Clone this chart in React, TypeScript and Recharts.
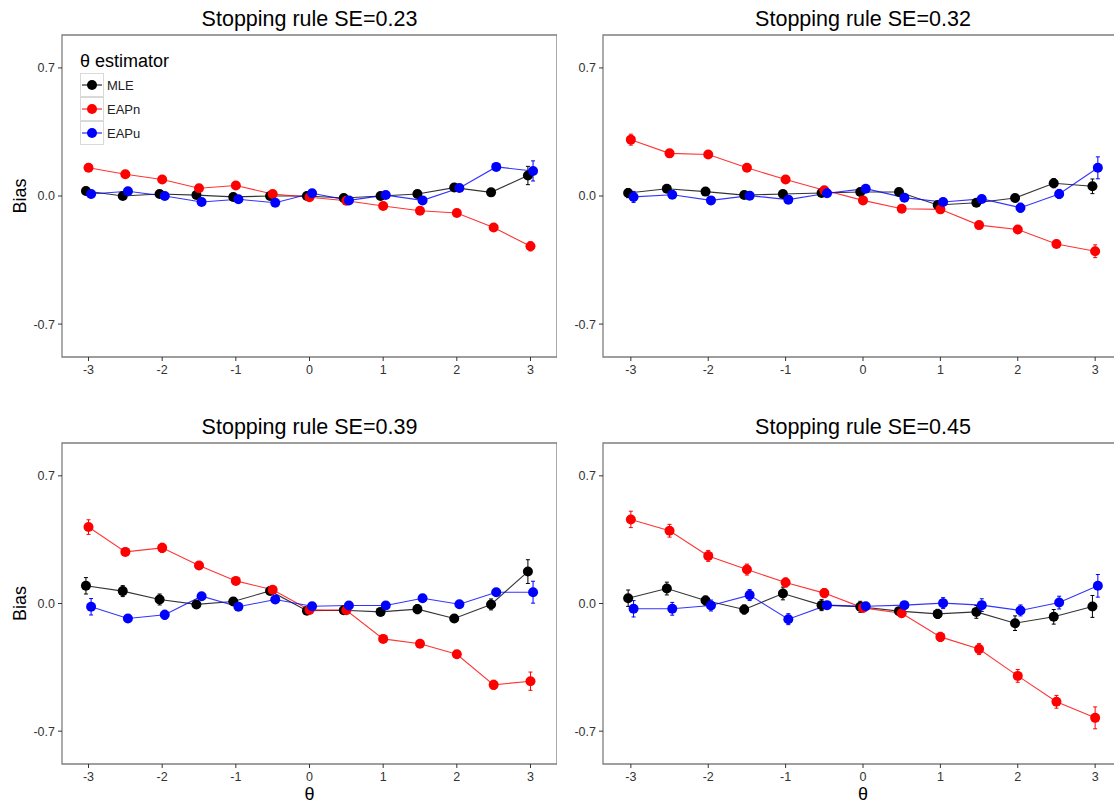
import React from 'react';
import { ComposedChart, Line, XAxis, YAxis, ErrorBar, ReferenceArea, Legend } from 'recharts';

const FONT = '"Liberation Sans", Arial, Helvetica, sans-serif';

// ---------- data ----------
const theta = [-3, -2.5, -2, -1.5, -1, -0.5, 0, 0.5, 1, 1.5, 2, 2.5, 3];
const xTicks = [-3, -2, -1, 0, 1, 2, 3];
const yTicks = [-0.7, 0, 0.7];

const estimators = ['MLE', 'EAPn', 'EAPu'];
const estimatorColors = ['#000000', '#FF0000', '#0000FF'];

const panelTitles = [
  'Stopping rule SE=0.23',
  'Stopping rule SE=0.32',
  'Stopping rule SE=0.39',
  'Stopping rule SE=0.45',
];

// SE = 0.23
const mle023 = [0.027, 0.0, 0.011, 0.005, -0.005, 0.0, 0.0, -0.011, 0.0, 0.011, 0.046, 0.02, 0.112];
const eapn023 = [0.154, 0.119, 0.09, 0.042, 0.057, 0.011, -0.007, -0.026, -0.055, -0.081, -0.093, -0.172, -0.275];
const eapu023 = [0.011, 0.026, 0.0, -0.033, -0.018, -0.037, 0.015, -0.024, 0.005, -0.024, 0.044, 0.159, 0.137];
const mleErr023 = [0.02, 0.015, 0.012, 0.012, 0.01, 0.01, 0.01, 0.01, 0.01, 0.012, 0.015, 0.02, 0.05];
const eapnErr023 = [0.02, 0.015, 0.012, 0.01, 0.01, 0.01, 0.01, 0.01, 0.01, 0.012, 0.012, 0.015, 0.025];
const eapuErr023 = [0.02, 0.015, 0.012, 0.01, 0.01, 0.01, 0.01, 0.01, 0.01, 0.012, 0.015, 0.02, 0.055];

// SE = 0.32
const mle032 = [0.016, 0.04, 0.024, 0.005, 0.011, 0.016, 0.022, 0.022, -0.049, -0.037, -0.011, 0.07, 0.053];
const eapn032 = [0.308, 0.233, 0.227, 0.154, 0.09, 0.031, -0.024, -0.07, -0.073, -0.159, -0.183, -0.262, -0.302];
const eapu032 = [-0.005, 0.007, -0.024, 0.002, -0.02, 0.015, 0.04, -0.009, -0.033, -0.016, -0.064, 0.011, 0.154];
const mleErr032 = [0.025, 0.02, 0.015, 0.012, 0.012, 0.01, 0.01, 0.012, 0.012, 0.015, 0.02, 0.025, 0.04];
const eapnErr032 = [0.03, 0.02, 0.015, 0.012, 0.012, 0.01, 0.01, 0.012, 0.012, 0.015, 0.015, 0.02, 0.035];
const eapuErr032 = [0.03, 0.02, 0.02, 0.015, 0.012, 0.01, 0.01, 0.012, 0.012, 0.015, 0.025, 0.025, 0.06];

// SE = 0.39
const mle039 = [0.097, 0.068, 0.022, -0.005, 0.011, 0.069, -0.04, -0.037, -0.046, -0.031, -0.082, -0.005, 0.175];
const eapn039 = [0.419, 0.283, 0.305, 0.208, 0.124, 0.075, -0.035, -0.037, -0.194, -0.221, -0.278, -0.446, -0.426];
const eapu039 = [-0.018, -0.082, -0.062, 0.04, -0.018, 0.022, -0.015, -0.011, -0.011, 0.029, -0.004, 0.062, 0.062];
const mleErr039 = [0.045, 0.03, 0.03, 0.02, 0.02, 0.02, 0.015, 0.015, 0.02, 0.025, 0.02, 0.03, 0.065];
const eapnErr039 = [0.04, 0.02, 0.025, 0.02, 0.015, 0.015, 0.015, 0.015, 0.02, 0.02, 0.02, 0.025, 0.05];
const eapuErr039 = [0.045, 0.02, 0.025, 0.02, 0.015, 0.015, 0.015, 0.015, 0.015, 0.015, 0.02, 0.02, 0.06];

// SE = 0.45
const mle045 = [0.029, 0.082, 0.016, -0.033, 0.055, -0.009, -0.018, -0.042, -0.057, -0.046, -0.108, -0.073, -0.016];
const eapn045 = [0.461, 0.399, 0.261, 0.186, 0.115, 0.057, -0.024, -0.053, -0.183, -0.25, -0.397, -0.539, -0.627];
const eapu045 = [-0.029, -0.029, -0.011, 0.046, -0.086, -0.009, -0.015, -0.009, 0.002, -0.009, -0.038, 0.005, 0.097];
const mleErr045 = [0.045, 0.035, 0.025, 0.025, 0.035, 0.03, 0.03, 0.02, 0.025, 0.035, 0.04, 0.04, 0.06];
const eapnErr045 = [0.045, 0.035, 0.03, 0.03, 0.025, 0.025, 0.02, 0.02, 0.025, 0.03, 0.035, 0.035, 0.06];
const eapuErr045 = [0.045, 0.035, 0.03, 0.03, 0.03, 0.02, 0.02, 0.02, 0.03, 0.035, 0.03, 0.035, 0.062];

// ---------- layout ----------
const DODGE = [-0.035, 0, 0.035];
const X_DOMAIN: [number, number] = [-3.36, 3.36];
const Y_DOMAIN: [number, number] = [-0.88, 0.88];

type Series = { values: number[]; errors: number[] };

const buildRows = (s: Series, offset: number) =>
  theta.map((t, i) => ({ x: t + offset, y: s.values[i], err: s.errors[i] }));

const LegendBox = () => (
  <div style={{ fontFamily: FONT }}>
    <div style={{ fontSize: 18, lineHeight: '20px', height: 20, whiteSpace: 'nowrap', color: '#000' }}>
      θ estimator
    </div>
    <div style={{ marginTop: 2 }}>
      {estimators.map((name, i) => (
        <div key={name} style={{ display: 'flex', alignItems: 'center', height: 24 }}>
          <svg width={24} height={24} style={{ display: 'block' }}>
            <rect x={0.5} y={0.5} width={23} height={23} fill="#ffffff" stroke="#d9d9d9" />
            <line x1={2} x2={22} y1={12} y2={12} stroke={estimatorColors[i]} strokeWidth={1} />
            <circle cx={12} cy={12} r={5} fill={estimatorColors[i]} />
          </svg>
          <span style={{ fontSize: 13, marginLeft: 3, color: '#222', whiteSpace: 'nowrap' }}>{name}</span>
        </div>
      ))}
    </div>
  </div>
);

type PanelProps = {
  title: string;
  series: Series[];
  left: number;
  top: number;
  width: number;
  height: number;
  yAxisWidth: number;
  xAxisHeight: number;
  showYTitle: boolean;
  showXTitle: boolean;
  showLegend: boolean;
};

const MARGIN_TOP = 35;

const Panel = (p: PanelProps) => {
  const plotLeft = p.left + p.yAxisWidth;
  const plotWidth = p.width - p.yAxisWidth;
  const tickStyle = { fontSize: 12.5, fill: '#333333', fontFamily: FONT };
  return (
    <>
      <div
        style={{
          position: 'absolute',
          left: plotLeft,
          width: plotWidth,
          top: p.top + 7,
          textAlign: 'center',
          fontSize: 21.5,
          lineHeight: '24px',
          fontFamily: FONT,
          color: '#000',
          whiteSpace: 'nowrap',
        }}
      >
        {p.title}
      </div>
      <div style={{ position: 'absolute', left: p.left, top: p.top }}>
        <ComposedChart
          width={p.width}
          height={p.height}
          margin={{ top: MARGIN_TOP, right: 0, bottom: 0, left: 0 }}
        >
          <XAxis
            type="number"
            dataKey="x"
            domain={X_DOMAIN}
            ticks={xTicks}
            allowDataOverflow
            axisLine={false}
            tickLine={{ stroke: '#333333' }}
            tickSize={4}
            tickMargin={4}
            tick={tickStyle}
            height={p.xAxisHeight}
            interval={0}
            label={
              p.showXTitle
                ? { value: 'θ', position: 'insideBottom', offset: 5, style: { fontSize: 18, fill: '#000', fontFamily: FONT } }
                : undefined
            }
          />
          <YAxis
            type="number"
            domain={Y_DOMAIN}
            ticks={yTicks}
            allowDataOverflow
            axisLine={false}
            tickLine={{ stroke: '#333333' }}
            tickSize={4}
            tickMargin={3}
            tick={tickStyle}
            width={p.yAxisWidth}
            interval={0}
            tickFormatter={(v: number) => v.toFixed(1)}
            label={
              p.showYTitle
                ? {
                    value: 'Bias',
                    angle: -90,
                    position: 'insideLeft',
                    offset: 20,
                    style: { fontSize: 18, fill: '#000', fontFamily: FONT, textAnchor: 'middle' },
                  }
                : undefined
            }
          />
          <ReferenceArea
            x1={X_DOMAIN[0]}
            x2={X_DOMAIN[1]}
            y1={Y_DOMAIN[0]}
            y2={Y_DOMAIN[1]}
            fill="none"
            stroke="#7f7f7f"
            strokeWidth={1.3}
            ifOverflow="visible"
          />
          {p.series.map((s, i) => (
            <Line
              key={'line-' + estimators[i]}
              data={buildRows(s, DODGE[i])}
              dataKey="y"
              type="linear"
              stroke={estimatorColors[i]}
              strokeOpacity={0.8}
              strokeWidth={1.1}
              dot={false}
              activeDot={false}
              isAnimationActive={false}
              legendType="none"
            >
              <ErrorBar dataKey="err" width={2} stroke={estimatorColors[i]} strokeWidth={1} direction="y" isAnimationActive={false} />
            </Line>
          ))}
          {p.series.map((s, i) => (
            <Line
              key={'pts-' + estimators[i]}
              data={buildRows(s, DODGE[i])}
              dataKey="y"
              type="linear"
              stroke="none"
              strokeWidth={0}
              dot={{ r: 5, fill: estimatorColors[i], stroke: estimatorColors[i], strokeWidth: 0 }}
              activeDot={false}
              isAnimationActive={false}
              legendType="none"
            />
          ))}
          {p.showLegend && (
            <Legend
              layout="vertical"
              align="center"
              verticalAlign="middle"
              wrapperStyle={{ position: 'absolute', left: 80, top: 51, width: 'auto', height: 'auto' }}
              content={() => <LegendBox />}
            />
          )}
        </ComposedChart>
      </div>
    </>
  );
};

export default function App() {
  const panels: Series[][] = [
    [
      { values: mle023, errors: mleErr023 },
      { values: eapn023, errors: eapnErr023 },
      { values: eapu023, errors: eapuErr023 },
    ],
    [
      { values: mle032, errors: mleErr032 },
      { values: eapn032, errors: eapnErr032 },
      { values: eapu032, errors: eapuErr032 },
    ],
    [
      { values: mle039, errors: mleErr039 },
      { values: eapn039, errors: eapnErr039 },
      { values: eapu039, errors: eapuErr039 },
    ],
    [
      { values: mle045, errors: mleErr045 },
      { values: eapn045, errors: eapnErr045 },
      { values: eapu045, errors: eapuErr045 },
    ],
  ];
  return (
    <div
      style={{
        position: 'absolute',
        left: 0,
        top: 0,
        width: 1114,
        height: 805,
        overflow: 'hidden',
        background: '#ffffff',
        fontFamily: FONT,
      }}
    >
      <Panel title={panelTitles[0]} series={panels[0]} left={0} top={0} width={557} height={408}
        yAxisWidth={62} xAxisHeight={51} showYTitle showXTitle={false} showLegend />
      <Panel title={panelTitles[1]} series={panels[1]} left={557} top={0} width={566} height={408}
        yAxisWidth={46} xAxisHeight={51} showYTitle={false} showXTitle={false} showLegend={false} />
      <Panel title={panelTitles[2]} series={panels[2]} left={0} top={408} width={557} height={397}
        yAxisWidth={62} xAxisHeight={41} showYTitle showXTitle showLegend={false} />
      <Panel title={panelTitles[3]} series={panels[3]} left={557} top={408} width={566} height={397}
        yAxisWidth={46} xAxisHeight={41} showYTitle={false} showXTitle showLegend={false} />
    </div>
  );
}
